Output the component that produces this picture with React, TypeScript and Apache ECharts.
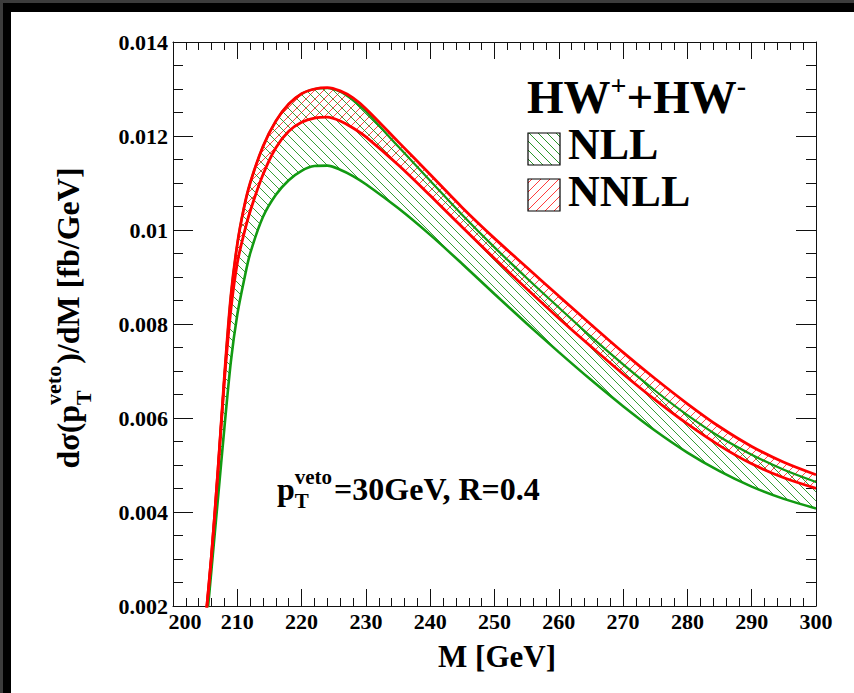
import React, { useEffect, useRef } from 'react';
import * as echarts from 'echarts';

// ---- data ----
const massGeV = [205, 206, 207, 208, 209, 210, 211, 212, 214, 216, 218, 220, 222, 224, 226, 228, 230, 235, 240, 245, 250, 255, 260, 265, 270, 275, 280, 285, 290, 295, 300];
const nnllUpper = [0.0016, 0.0031, 0.0049, 0.0069, 0.0086, 0.0097, 0.01045, 0.0110, 0.01178, 0.01232, 0.01268, 0.01290, 0.01300, 0.01303, 0.01296, 0.01281, 0.01258, 0.01188, 0.01118, 0.010475, 0.009822, 0.009208, 0.008594, 0.00799, 0.007397, 0.006835, 0.006303, 0.005813, 0.005395, 0.005058, 0.004793];
const nnllLower = [0.0016, 0.0031, 0.0049, 0.0068, 0.0083, 0.0093, 0.0099, 0.01040, 0.01118, 0.01175, 0.01210, 0.01229, 0.01238, 0.01240, 0.01232, 0.01217, 0.01198, 0.011387, 0.010732, 0.010057, 0.009392, 0.008748, 0.008124, 0.007520, 0.006937, 0.006385, 0.005873, 0.005413, 0.005025, 0.004728, 0.004503];
const nllUpper = [0.0016, 0.0031, 0.0049, 0.0069, 0.0086, 0.0097, 0.01045, 0.0110, 0.01178, 0.01232, 0.01268, 0.01290, 0.01300, 0.01302, 0.01294, 0.01276, 0.01252, 0.01178, 0.01105, 0.01032, 0.00963, 0.00898, 0.00835, 0.00773, 0.00714, 0.00658, 0.00606, 0.00560, 0.00522, 0.00490, 0.00464];
const nllLower = [0.0013, 0.0028, 0.0043, 0.0058, 0.0072, 0.0082, 0.0089, 0.0095, 0.01028, 0.01075, 0.01106, 0.01126, 0.01136, 0.01137, 0.011283, 0.011148, 0.010974, 0.010466, 0.009896, 0.009277, 0.008639, 0.008011, 0.007402, 0.006812, 0.006251, 0.005729, 0.005265, 0.004869, 0.00454, 0.004279, 0.004076];

const xRange = { min: 200, max: 300, step: 10 };
const yRange = { min: 0.002, max: 0.014, step: 0.002 };

const legendLabels = ['NLL', 'NNLL'];
const annotation = { main: 'p', sup: 'veto', sub: 'T', rest: '=30GeV, R=0.4' };
const yTitle = { a: 'dσ(p', sup: 'veto', sub: 'T', b: ')/dM [fb/GeV]' };
const xTitle = 'M [GeV]';

const FONT = "'Liberation Serif', 'Times New Roman', serif";
const GREEN = '#129a12';
const RED = '#ff0000';

function hatchURL(size: number, color: string, dir: 'back' | 'fwd', lw = 1): string {
  const c = document.createElement('canvas');
  c.width = size;
  c.height = size;
  const g = c.getContext('2d')!;
  g.strokeStyle = color;
  g.lineWidth = lw;
  g.beginPath();
  for (let k = -1; k <= 1; k++) {
    if (dir === 'back') {
      g.moveTo(-1, -1 + k * size);
      g.lineTo(size + 1, size + 1 + k * size);
    } else {
      g.moveTo(-1, size + 1 + k * size);
      g.lineTo(size + 1, -1 + k * size);
    }
  }
  g.stroke();
  return c.toDataURL();
}

let measureCtx: CanvasRenderingContext2D | null = null;
function measure(text: string, size: number): number {
  if (!measureCtx) measureCtx = document.createElement('canvas').getContext('2d');
  measureCtx!.font = `bold ${size}px ${FONT}`;
  return measureCtx!.measureText(text).width;
}

function txt(x: number, y: number, text: string, size: number, align: string = 'left') {
  return {
    type: 'text',
    x,
    y,
    z: 20,
    silent: true,
    style: {
      text,
      font: `bold ${size}px ${FONT}`,
      fill: '#000',
      align,
      verticalAlign: 'middle',
      textAlign: align,
      textVerticalAlign: 'middle',
    },
  };
}

export default function App() {
  const ref = useRef<HTMLDivElement>(null);

  useEffect(() => {
    const el = ref.current!;
    const chart = echarts.init(el, null, { renderer: 'svg' });

    const greenPat = { image: hatchURL(9, 'rgba(20,140,20,0.85)', 'back'), repeat: 'repeat', imageWidth: 9, imageHeight: 9 };
    const redPat = { image: hatchURL(9, 'rgba(255,40,40,0.85)', 'fwd'), repeat: 'repeat', imageWidth: 9, imageHeight: 9 };
    const greenPatL = { image: hatchURL(9, 'rgba(20,140,20,0.9)', 'back'), repeat: 'repeat', imageWidth: 9, imageHeight: 9 };
    const redPatL = { image: hatchURL(9, 'rgba(255,40,40,0.9)', 'fwd'), repeat: 'repeat', imageWidth: 9, imageHeight: 9 };

    const pts = (vals: number[]) => massGeV.map((m, i) => [m, vals[i]]);
    const SMOOTH = 0.3;
    const area = (vals: number[], color: any) => ({
      type: 'line',
      data: pts(vals),
      smooth: SMOOTH,
      symbol: 'none',
      showSymbol: false,
      silent: true,
      lineStyle: { width: 0, opacity: 0 },
      areaStyle: { color, opacity: 1, origin: 'start' },
      z: 2,
    });
    const line = (vals: number[], color: string, width: number) => ({
      type: 'line',
      data: pts(vals),
      smooth: SMOOTH,
      symbol: 'none',
      showSymbol: false,
      silent: true,
      lineStyle: { color, width },
      z: 5,
    });

    const labelStyle = { fontFamily: FONT, fontWeight: 'bold', fontSize: 22, color: '#000' };
    const xBase = {
      type: 'value',
      min: xRange.min,
      max: xRange.max,
      interval: xRange.step,
      z: 4,
      axisLine: { show: true, onZero: false, lineStyle: { color: '#111', width: 1 } },
      splitLine: { show: false },
      axisTick: { show: true, inside: true, length: 17, lineStyle: { color: '#111', width: 1 } },
      minorTick: { show: true, splitNumber: 5, length: 8, lineStyle: { color: '#111', width: 1 } },
    };
    const yBase = {
      type: 'value',
      min: yRange.min,
      max: yRange.max,
      interval: yRange.step,
      z: 4,
      axisLine: { show: true, onZero: false, lineStyle: { color: '#111', width: 1 } },
      splitLine: { show: false },
      axisTick: { show: true, inside: true, length: 20, lineStyle: { color: '#111', width: 1 } },
      minorTick: { show: true, splitNumber: 4, length: 10, lineStyle: { color: '#111', width: 1 } },
    };

    // annotation p_T^veto=30GeV, R=0.4
    const aX = 277;
    const aY = 489;
    const aMain = 32;
    const aSmall = 21;
    const wp = measure(annotation.main, aMain);
    const wSS = Math.max(measure(annotation.sup, aSmall), measure(annotation.sub, aSmall));
    const annot = [
      txt(aX, aY, annotation.main, aMain),
      txt(aX + wp, aY - 12, annotation.sup, aSmall),
      txt(aX + wp, aY + 12, annotation.sub, aSmall),
      txt(aX + wp + wSS + 2, aY, annotation.rest, aMain),
    ];

    // rotated y title
    const ySize = 32;
    const ySmall = 22;
    const w1 = measure(yTitle.a, ySize);
    const wss = Math.max(measure(yTitle.sup, ySmall), measure(yTitle.sub, ySmall));
    const w2 = measure(yTitle.b, ySize);
    const total = w1 + wss + 2 + w2;
    const yTitleGroup = {
      type: 'group',
      x: 68,
      y: 318 + total / 2,
      rotation: Math.PI / 2,
      z: 20,
      children: [
        txt(0, 0, yTitle.a, ySize),
        txt(w1, -15, yTitle.sup, ySmall),
        txt(w1, 15, yTitle.sub, ySmall),
        txt(w1 + wss + 2, 0, yTitle.b, ySize),
      ],
    };

    // legend title HW^+ + HW^-
    const lX = 527;
    const lY = 97;
    const lBig = 47;
    const lSup = 28;
    const wHW = measure('HW', lBig);
    const wSupP = measure('+', lSup);
    const wPlus = measure('+', lBig);
    const legendTitle = [
      txt(lX, lY, 'HW', lBig),
      txt(lX + wHW, lY - 12, '+', lSup),
      txt(lX + wHW + wSupP, lY, '+', lBig),
      txt(lX + wHW + wSupP + wPlus, lY, 'HW', lBig),
      txt(lX + 2 * wHW + wSupP + wPlus, lY - 12, '-', lSup),
    ];

    const legendItems = [
      { type: 'rect', z: 20, silent: true, shape: { x: 528, y: 133, width: 32, height: 32 }, style: { fill: greenPatL, stroke: '#000', lineWidth: 1.2 } },
      { type: 'rect', z: 20, silent: true, shape: { x: 528, y: 179, width: 32, height: 32 }, style: { fill: redPatL, stroke: '#000', lineWidth: 1.2 } },
      txt(568, 144, legendLabels[0], 44),
      txt(568, 191, legendLabels[1], 44),
    ];

    const option: any = {
      animation: false,
      backgroundColor: 'transparent',
      grid: { left: 173, right: 38, top: 42, bottom: 87, containLabel: false },
      xAxis: [
        {
          ...xBase,
          position: 'bottom',
          axisLabel: {
            ...labelStyle,
            margin: 4,
            formatter: (v: number) => (v === xRange.min ? `{first|${v}}` : String(v)),
            rich: { first: { ...labelStyle, padding: [0, 0, 0, 24] } },
          },
        },
        { ...xBase, position: 'top', axisLabel: { show: false } },
      ],
      yAxis: [
        {
          ...yBase,
          position: 'left',
          axisLabel: { ...labelStyle, margin: 5, formatter: (v: number) => String(parseFloat(v.toFixed(4))) },
        },
        { ...yBase, position: 'right', axisLabel: { show: false } },
      ],
      series: [
        area(nnllUpper, redPat),
        area(nnllLower, '#ffffff'),
        area(nllUpper, greenPat),
        area(nllLower, '#ffffff'),
        line(nllLower, GREEN, 2.6),
        line(nllUpper, GREEN, 2.2),
        line(nnllLower, RED, 2.8),
        line(nnllUpper, RED, 2.8),
      ],
      graphic: [
        ...annot,
        yTitleGroup,
        txt(497, 656, xTitle, 31, 'center'),
        ...legendTitle,
        ...legendItems,
      ],
    };

    chart.setOption(option);
    return () => chart.dispose();
  }, []);

  return (
    <div style={{ position: 'fixed', left: 0, top: 0, width: 854, height: 693, background: '#3c3c3c', overflow: 'hidden' }}>
      <div style={{ position: 'absolute', left: 3, top: 3, right: 0, bottom: 0, background: '#000' }} />
      <div style={{ position: 'absolute', left: 11, top: 12, right: 0, bottom: 0, background: '#fff' }} />
      <div ref={ref} style={{ position: 'absolute', left: 0, top: 0, width: 854, height: 693 }} />
    </div>
  );
}
